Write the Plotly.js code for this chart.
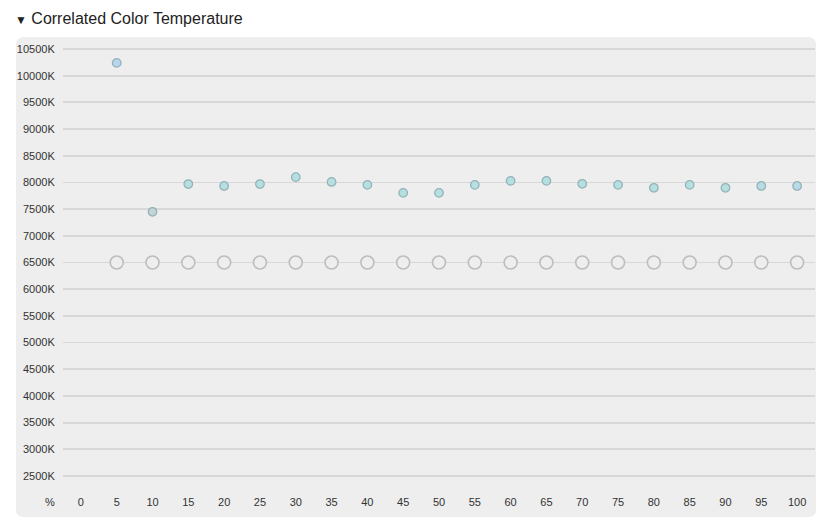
<!DOCTYPE html>
<html><head><meta charset="utf-8">
<script src="https://cdn.plot.ly/plotly-3.0.1.min.js"></script>
<style>html,body{margin:0;padding:0;background:#fff;}#c{width:829px;height:524px;}</style>
</head><body><div id="c"></div>
<script>
const levels = [5,10,15,20,25,30,35,40,45,50,55,60,65,70,75,80,85,90,95,100];
const measuredCCT = [10240,7450,7970,7935,7970,8100,8010,7955,7805,7805,7955,8030,8030,7975,7955,7900,7955,7900,7935,7935];
const targetCCT = [6500,6500,6500,6500,6500,6500,6500,6500,6500,6500,6500,6500,6500,6500,6500,6500,6500,6500,6500,6500];
const pointFill = ['#b9d5ee','#c6d3d4','#b6dfe0','#b6dfe0','#b6dfe0','#b4e0e2','#b6dfe0','#b6dfe0','#b6dfe0','#b6dfe0','#b6dfe0','#b6dfe0','#b6dfe0','#b6dfe0','#b6dfe0','#b6dfe0','#b6dfe0','#b6dfe0','#b8dbe6','#b8dbe6'];
const yTicks = [2500,3000,3500,4000,4500,5000,5500,6000,6500,7000,7500,8000,8500,9000,9500,10000,10500];
const yTickText = yTicks.map(v => v + 'K');
const xTicks = [0,5,10,15,20,25,30,35,40,45,50,55,60,65,70,75,80,85,90,95,100];

const L = 63, R = 815, T = 40, B = 490, W = 829, H = 524;
const pw = R - L, ph = B - T;
const px = v => (v - L) / pw, py = v => (B - v) / ph;
const x0 = px(16), x1 = px(816), y0 = py(517), y1 = py(37);
const rx = 8 / pw, ry = 8 / ph;
const panel = `M ${x0+rx} ${y0} L ${x1-rx} ${y0} Q ${x1} ${y0} ${x1} ${y0+ry} L ${x1} ${y1-ry} Q ${x1} ${y1} ${x1-rx} ${y1} L ${x0+rx} ${y1} Q ${x0} ${y1} ${x0} ${y1-ry} L ${x0} ${y0+ry} Q ${x0} ${y0} ${x0+rx} ${y0} Z`;
const tickFont = {family: 'Arial, Liberation Sans, sans-serif', size: 11, color: '#333333'};

const traces = [
  {x: levels, y: targetCCT, type: 'scatter', mode: 'markers', hoverinfo: 'skip',
   marker: {size: 13, color: '#eeeeee', line: {color: '#bdbdbd', width: 1.6}}},
  {x: levels, y: measuredCCT, type: 'scatter', mode: 'markers',
   marker: {size: 8.5, color: pointFill, line: {color: '#93b3b8', width: 1.3}}}
];

const layout = {
  width: W, height: H,
  margin: {l: L, r: W - R, t: T, b: H - B},
  paper_bgcolor: '#ffffff', plot_bgcolor: 'rgba(0,0,0,0)',
  showlegend: false,
  font: tickFont,
  title: {text: '<span style="font-size:12px">▼</span> Correlated Color Temperature', x: 15 / W, xanchor: 'left', xref: 'container',
          y: 1 - 18 / H, yanchor: 'middle', yref: 'container',
          font: {family: 'Arial, Liberation Sans, sans-serif', size: 16, color: '#222'}},
  xaxis: {range: [-2.5, 102.5], tickvals: xTicks, ticktext: xTicks.map(String), tickfont: tickFont,
          showgrid: false, zeroline: false, showline: false,
          ticks: 'outside', ticklen: 2, tickcolor: 'rgba(0,0,0,0)', fixedrange: true},
  yaxis: {range: [2238, 10669], tickvals: yTicks, ticktext: yTickText, tickfont: tickFont,
          showgrid: true, gridcolor: '#d8d8d8', gridwidth: 1.8, zeroline: false, showline: false,
          ticks: 'outside', ticklen: 5, tickcolor: 'rgba(0,0,0,0)', fixedrange: true},
  shapes: [{type: 'path', xref: 'paper', yref: 'paper', path: panel,
            fillcolor: '#eeeeee', line: {width: 0}, layer: 'below'}],
  annotations: [{text: '%', xref: 'paper', yref: 'paper', x: px(57), y: py(502),
                 xanchor: 'right', yanchor: 'middle', showarrow: false,
                 font: tickFont}]
};
Plotly.newPlot('c', traces, layout, {displayModeBar: false, staticPlot: true});
</script></body></html>
